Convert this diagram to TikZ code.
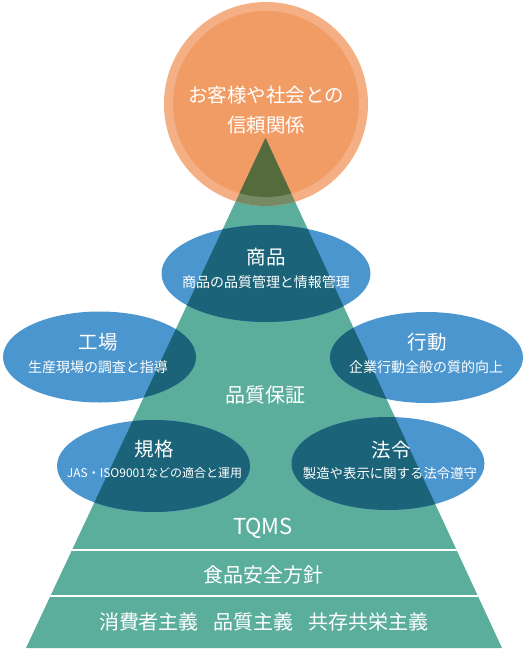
\documentclass[tikz,border=0pt]{standalone}
\usepackage{fontspec}
\setmainfont{Noto Sans CJK JP}
\definecolor{pyrteal}{HTML}{5BAE9C}
\definecolor{ellblue}{HTML}{4C96CF}
\definecolor{elldark}{HTML}{1B6379}
\definecolor{sunorange}{HTML}{F29C65}
\definecolor{sunring}{HTML}{F4B084}
\definecolor{sundark}{HTML}{556B3C}
\definecolor{ringdark}{HTML}{788A65}

\begin{document}
\begin{tikzpicture}[x=1pt, y=-1pt, line cap=round,
    txt/.style={text=white, inner sep=0pt},
    big/.style={txt, font=\fontsize{19.5}{23}\selectfont},
    small/.style={txt, font=\fontsize{14}{17}\selectfont}]
    % 品質保証のピラミッド
    \def\rO{102}
    \def\rI{93}
    \def\ex{96.5}
    \def\ey{45.5}
    \useasboundingbox (0,0) rectangle (527,649);
    \coordinate (T) at (265.5, 138);
    \coordinate (BL) at (26, 648);
    \coordinate (BR) at (502, 648);
    \coordinate (C) at (266, 104);
    \coordinate (E1) at (266, 273.5);
    \coordinate (E2) at (99.5, 357);
    \coordinate (E3) at (426.5, 357.5);
    \coordinate (E4) at (153.5, 466);
    \coordinate (E5) at (388, 463.5);

    \fill[pyrteal] (T) -- (BL) -- (BR) -- cycle;
    \fill[sunring] (C) circle (\rO);
    \fill[sunorange] (C) circle (\rI);
    \fill[ellblue] (E1) ellipse [x radius=104.5, y radius=48.5];
    \fill[ellblue] (E2) ellipse [x radius=\ex, y radius=\ey];
    \fill[ellblue] (E3) ellipse [x radius=\ex, y radius=\ey];
    \fill[ellblue] (E4) ellipse [x radius=\ex, y radius=46];
    \fill[ellblue] (E5) ellipse [x radius=\ex, y radius=46.5];

    \begin{scope}
        \clip (T) -- (BL) -- (BR) -- cycle;
        \fill[ringdark] (C) circle (\rO);
        \fill[sundark] (C) circle (\rI);
        \fill[elldark] (E1) ellipse [x radius=104.5, y radius=48.5];
        \fill[elldark] (E2) ellipse [x radius=\ex, y radius=\ey];
        \fill[elldark] (E3) ellipse [x radius=\ex, y radius=\ey];
        \fill[elldark] (E4) ellipse [x radius=\ex, y radius=46];
        \fill[elldark] (E5) ellipse [x radius=\ex, y radius=46.5];
        \draw[white, line width=2.5] (0, 550) -- (527, 550);
        \draw[white, line width=2.5] (0, 596) -- (527, 596);
    \end{scope}

    \node[big] (sun1) at (266, 95) {お客様や社会との};
    \node[big] (sun2) at (266, 125) {信頼関係};

    \node[big] (s1) at (266, 257) {商品};
    \node[small] (d1) at (266, 282.5) {商品の品質管理と情報管理};
    \node[big] (s2) at (98, 342) {工場};
    \node[small] (d2) at (98, 367) {生産現場の調査と指導};
    \node[big] (s3) at (427, 342) {行動};
    \node[small] (d3) at (426, 367.5) {企業行動全般の質的向上};
    \node[big] (s4) at (154, 449) {規格};
    \node[small, font=\fontsize{12}{15}\selectfont] (d4) at (154.5, 473) {JAS・ISO9001などの適合と運用};
    \node[big] (s5) at (391, 450) {法令};
    \node[small, font=\fontsize{13.4}{16}\selectfont] (d5) at (390, 473) {製造や表示に関する法令遵守};

    \node[big, font=\fontsize{20}{24}\selectfont] (qa) at (265, 395) {品質保証};
    \node[big, font=\fontsize{22}{26}\selectfont] (tqms) at (263, 528) {TQMS};
    \node[big, font=\fontsize{20}{24}\selectfont] (fs) at (263, 575) {食品安全方針};
    \node[big, font=\fontsize{20}{24}\selectfont] (base) at (264, 622)
        {消費者主義\hspace{0.75em}品質主義\hspace{0.75em}共存共栄主義};
\end{tikzpicture}
\end{document}
